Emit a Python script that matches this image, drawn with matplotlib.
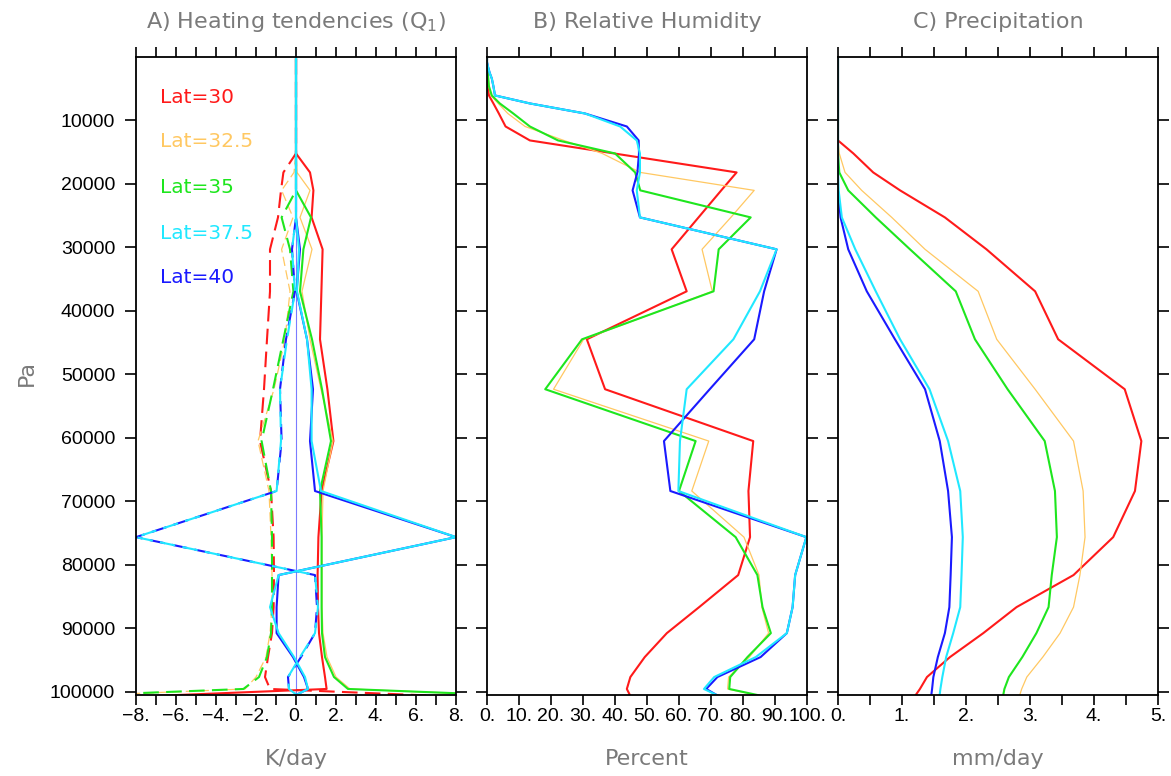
import matplotlib
matplotlib.use("Agg")
import matplotlib.pyplot as plt
from matplotlib.ticker import FixedLocator

# model levels (Pa)
lev = [300, 800, 1500, 2440, 3390, 4600, 6060, 7320, 8900, 10950,
       13150, 15200, 18190, 21020, 25280, 30310, 36930, 44490, 52360, 60530,
       68400, 75670, 81650, 86700, 90800, 94570, 97720, 99600, 101200]

lats = ["Lat=30", "Lat=32.5", "Lat=35", "Lat=37.5", "Lat=40"]

# A) heating tendencies, K/day (solid and dashed curve per latitude)
q1_30 = [0, 0, 0, 0, 0, 0, 0, 0, 0, 0, 0, 0, 0.7, 0.87, 0.78, 1.33, 1.27, 1.2, 1.57, 1.87,
         1.28, 1.12, 1.08, 1.1, 1.15, 1.3, 1.45, 1.53, -11.0]
q1_325 = [0, 0, 0, 0, 0, 0, 0, 0, 0, 0, 0, 0, 0.05, 0.7, 0.2, 0.8, 0.3, 0.7, 1.25, 1.85,
          1.35, 1.3, 1.3, 1.3, 1.35, 1.55, 2.0, 2.7, 15.0]
q1_35 = [0, 0, 0, 0, 0, 0, 0, 0, 0, 0, 0, 0, 0, 0, 0.75, 0.37, 0.2, 0.8, 1.3, 1.75,
         1.2, 1.28, 1.28, 1.28, 1.3, 1.45, 1.9, 2.6, 15.5]
q1_375 = [0, 0, 0, 0, 0, 0, 0, 0, 0, 0, 0, 0, 0, 0, 0, 0.15, 0.05, 0.55, 0.78, 0.78,
          1.25, 8.0, -0.87, -1.3, -0.87, -0.1, 0.45, 0.6, -0.4]
q1_40 = [0, 0, 0, 0, 0, 0, 0, 0, 0, 0, 0, 0, 0, 0, 0, 0.2, 0.03, 0.55, 0.85, 0.7,
         0.95, 8.0, -0.87, -0.97, -0.97, -0.15, 0.4, 0.6, -0.4]

q1d_30 = [0, 0, 0, 0, 0, 0, 0, 0, 0, 0, 0, 0, -0.63, -0.75, -0.9, -1.3, -1.3, -1.45, -1.6, -1.8,
          -1.25, -1.12, -1.1, -1.12, -1.2, -1.4, -1.55, -1.3, 11.0]
q1d_325 = [0, 0, 0, 0, 0, 0, 0, 0, 0, 0, 0, 0, -0.1, -0.72, -0.15, -0.72, -0.3, -0.55, -1.1, -1.9,
           -1.35, -1.25, -1.2, -1.2, -1.3, -1.5, -2.0, -2.55, -15.0]
q1d_35 = [0, 0, 0, 0, 0, 0, 0, 0, 0, 0, 0, 0, 0, 0, -0.72, -0.3, -0.13, -0.63, -1.15, -1.72,
          -1.25, -1.2, -1.2, -1.2, -1.25, -1.45, -1.85, -2.63, -15.5]
q1d_375 = [0, 0, 0, 0, 0, 0, 0, 0, 0, 0, 0, 0, 0, 0, 0, -0.2, -0.05, -0.45, -0.8, -0.75,
           -0.97, -8.0, 0.95, 1.1, 0.95, 0.2, -0.4, -0.35, 0.3]
q1d_40 = [0, 0, 0, 0, 0, 0, 0, 0, 0, 0, 0, 0, 0, 0, 0, -0.2, -0.05, -0.5, -0.8, -0.72,
          -0.97, -8.0, 0.95, 1.05, 0.95, 0.25, -0.4, -0.35, 0.3]

# B) relative humidity, percent
rh_30 = [0, 0, 0, 0.1, 0.2, 0.3, 0.6, 2.0, 3.7, 5.8, 13.4, 39.7, 78.0, 73.2, 66.1, 57.7, 62.4, 31.2, 36.9, 83.2,
         81.7, 82.2, 78.5, 66.3, 56.2, 49.3, 44.8, 43.7, 45.3]
rh_325 = [0, 0, 0, 0.2, 0.4, 0.6, 1.2, 3.5, 6.5, 11.9, 24.0, 36.0, 47.9, 83.5, 76.2, 67.2, 70.4, 30.2, 20.8, 69.3,
          64.0, 80.3, 85.0, 85.9, 88.0, 82.0, 75.5, 75.2, 90.0]
rh_35 = [0, 0, 0, 0.2, 0.4, 0.6, 1.5, 4.0, 8.2, 13.4, 22.2, 40.0, 46.3, 47.9, 82.4, 72.4, 70.8, 29.7, 18.2, 65.2,
         60.0, 77.7, 84.5, 86.1, 88.7, 81.4, 76.0, 75.7, 90.5]
rh_375 = [0, 0, 0.3, 0.8, 1.5, 2.0, 2.5, 13.4, 30.6, 41.6, 46.8, 47.8, 47.8, 46.8, 47.8, 90.5, 85.3, 77.0, 62.4, 60.3,
          59.8, 99.8, 96.3, 95.5, 93.7, 84.0, 71.0, 67.8, 74.5]
rh_40 = [0, 0, 0.3, 0.8, 1.5, 2.0, 2.5, 13.4, 30.6, 43.7, 47.4, 47.5, 47.0, 45.5, 47.8, 90.5, 86.6, 83.5, 69.6, 55.3,
         57.3, 99.8, 96.3, 95.5, 93.7, 85.5, 72.0, 68.5, 74.0]

# C) precipitation, mm/day
pr_30 = [0, 0, 0, 0, 0, 0, 0, 0, 0, 0, 0, 0.24, 0.55, 0.97, 1.67, 2.32, 3.08, 3.44, 4.48, 4.74,
         4.64, 4.30, 3.68, 2.79, 2.27, 1.75, 1.39, 1.28, 1.17]
pr_325 = [0, 0, 0, 0, 0, 0, 0, 0, 0, 0, 0, 0.02, 0.11, 0.37, 0.84, 1.36, 2.19, 2.48, 3.08, 3.68,
          3.83, 3.86, 3.78, 3.68, 3.47, 3.20, 2.95, 2.87, 2.82]
pr_35 = [0, 0, 0, 0, 0, 0, 0, 0, 0, 0, 0, 0, 0.02, 0.16, 0.59, 1.125, 1.84, 2.14, 2.65, 3.23,
         3.39, 3.42, 3.34, 3.29, 3.10, 2.88, 2.67, 2.60, 2.57]
pr_375 = [0, 0, 0, 0, 0, 0, 0, 0, 0, 0, 0, 0, 0, 0.01, 0.06, 0.27, 0.59, 0.97, 1.43, 1.72,
          1.91, 1.95, 1.93, 1.91, 1.80, 1.69, 1.63, 1.60, 1.58]
pr_40 = [0, 0, 0, 0, 0, 0, 0, 0, 0, 0, 0, 0, 0, 0, 0.04, 0.16, 0.45, 0.89, 1.36, 1.59,
         1.72, 1.78, 1.76, 1.74, 1.67, 1.56, 1.49, 1.47, 1.45]

colors = ["#ff1a1a", "#ffc862", "#1ee61e", "#20e8ff", "#1a1aff"]
widths = [1.5, 0.9, 1.5, 1.5, 1.5]
offsets = [0, 0, 0, 6, 0]
# draw order: blue under cyan, like the original
order = [0, 1, 2, 4, 3]
gray = "#7a7a7a"

W, H = 1171, 776
fig = plt.figure(figsize=(W / 100, H / 100), dpi=100)


def make_ax(x0):
    ax = fig.add_axes([x0 / W, 1 - 695 / H, 320 / W, 638 / H])
    ax.set_ylim(100550, 0)
    ax.yaxis.set_major_locator(FixedLocator(range(10000, 100001, 10000)))
    for s in ax.spines.values():
        s.set_linewidth(1.3)
    ax.tick_params(axis="both", which="both", direction="out", top=True, right=True,
                   width=1.2, labelsize=14, labelfontfamily="Liberation Sans")
    ax.tick_params(axis="x", which="both", length=7.5, pad=2)
    ax.tick_params(axis="y", which="both", length=8, pad=7)
    return ax


def labels(ax, title, xlab):
    ax.text(0.5, 1.055, title, transform=ax.transAxes, ha="center", va="center",
            color=gray, fontsize=16)
    ax.text(0.5, -0.1, xlab, transform=ax.transAxes, ha="center", va="center",
            color=gray, fontsize=16)


# ---- A) heating
axA = make_ax(136)
axA.axvline(0, color="#7b7bff", lw=0.8, zorder=1.5)
solid = [q1_30, q1_325, q1_35, q1_375, q1_40]
dashed = [q1d_30, q1d_325, q1d_35, q1d_375, q1d_40]
for i in order:
    axA.plot(solid[i], lev, color=colors[i], lw=widths[i])
    axA.plot(dashed[i], lev, color=colors[i], lw=widths[i], linestyle=(offsets[i], (7.5, 3.5)))
axA.set_xlim(-8, 8)
axA.set_xticks(range(-8, 9, 2))
axA.set_xticklabels([(("\u2212" if v < 0 else "") + "%d." % abs(v)) for v in range(-8, 9, 2)])
axA.xaxis.set_minor_locator(FixedLocator(range(-7, 8, 2)))
axA.set_yticklabels(["%d" % v for v in range(10000, 100001, 10000)])
labels(axA, "A) Heating tendencies (Q$_1$)", "K/day")
for i, name in enumerate(lats):
    axA.text(0.075, [0.937, 0.867, 0.796, 0.724, 0.654][i], name, transform=axA.transAxes,
             color=colors[i], fontsize=14.5, va="center", ha="left")

# ---- B) relative humidity
axB = make_ax(487)
rh_all = [rh_30, rh_325, rh_35, rh_375, rh_40]
for i in order:
    axB.plot(rh_all[i], lev, color=colors[i], lw=widths[i])
axB.set_xlim(0, 100)
axB.set_xticks(range(0, 101, 10))
axB.set_xticklabels(["%d." % v for v in range(0, 101, 10)])
axB.tick_params(axis="y", labelleft=False)
labels(axB, "B) Relative Humidity", "Percent")

# ---- C) precipitation
axC = make_ax(838)
pr_all = [pr_30, pr_325, pr_35, pr_375, pr_40]
for i in order:
    axC.plot(pr_all[i], lev, color=colors[i], lw=widths[i])
axC.set_xlim(0, 5)
axC.set_xticks(range(0, 6))
axC.set_xticklabels(["%d." % v for v in range(0, 6)])
axC.xaxis.set_minor_locator(FixedLocator([0.5, 1.5, 2.5, 3.5, 4.5]))
axC.tick_params(axis="y", labelleft=False)
labels(axC, "C) Precipitation", "mm/day")

fig.text(27 / W, 1 - 373 / H, "Pa", rotation=90, ha="center", va="center",
         color=gray, fontsize=16)

fig.savefig("out.png", dpi=100)
